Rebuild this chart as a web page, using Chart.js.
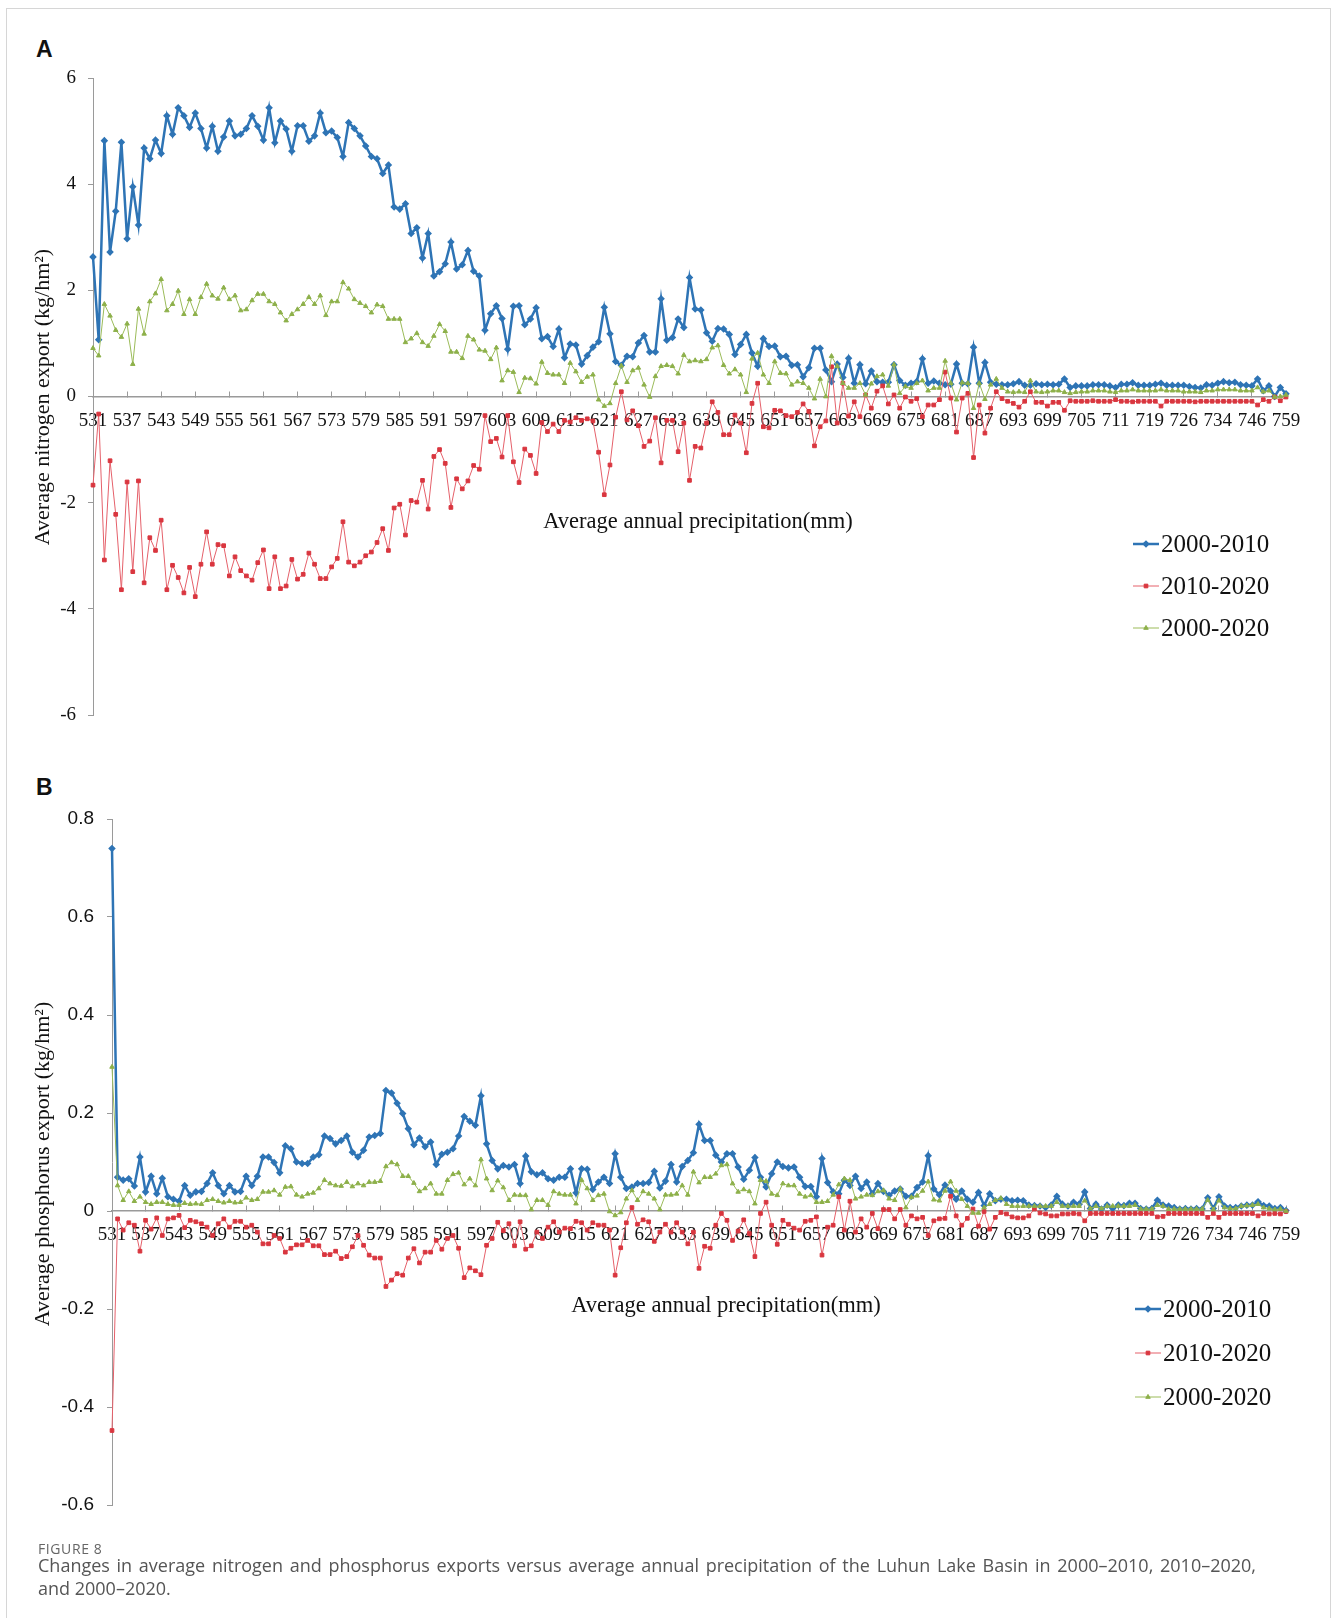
<!DOCTYPE html>
<html>
<head>
<meta charset="utf-8">
<script src="https://cdn.jsdelivr.net/npm/chart.js@4.4.1/dist/chart.umd.min.js"></script>
<style>
  body { margin: 0; background: #fff; }
  .page { position: relative; width: 1332px; height: 1618px; overflow: hidden; }
  .frame { position: absolute; left: 6px; top: 8px; width: 1323px; height: 1660px; border: 1px solid #d6d6d6; }
  .panel-tag { position: absolute; left: 36px; font: bold 23px "Liberation Sans", Arial, sans-serif; color: #111; }
  canvas { position: absolute; left: 0; }
  .fig-no { position: absolute; left: 38px; top: 1539px; font: 14px "Open Sans", sans-serif; color: #666; letter-spacing: 0.6px; }
  .caption { position: absolute; left: 38px; top: 1554px; width: 1218px; font: 18px/23px "Open Sans", sans-serif; color: #555; text-align: justify; }
  .nw { white-space: nowrap; }
</style>
</head>
<body>
<div class="page">
  <div class="frame"></div>
  <div class="panel-tag" style="top:36px">A</div>
  <div class="panel-tag" style="top:774px">B</div>
  <canvas id="chartA" width="1332" height="760" style="top:0"></canvas>
  <canvas id="chartB" width="1332" height="790" style="top:760px"></canvas>
  <div class="fig-no">FIGURE 8</div>
  <div class="caption">Changes in average nitrogen and phosphorus exports versus average annual precipitation of the Luhun Lake Basin in 2000–2010, 2010–2020, <span class="nw">and 2000–2020.</span></div>
</div>
<script>
// x axis: one label every 6 precipitation classes
const tickLabels = ['531','537','543','549','555','561','567','573','579','585','591','597','603','609','615','621','627','633','639','645','651','657','663','669','675','681','687','693','699','705','711','719','726','734','746','759'];
const seriesNames = ['2000-2010', '2010-2020', '2000-2020'];

// A: nitrogen export (kg/hm2)
const nitro0010 = [
  2.63, 1.07, 4.82, 2.72, 3.49, 4.79, 2.97, 3.95, 3.23, 4.68,
  4.48, 4.83, 4.58, 5.29, 4.94, 5.44, 5.29, 5.07, 5.34, 5.05,
  4.68, 5.09, 4.62, 4.89, 5.19, 4.91, 4.94, 5.05, 5.29, 5.09,
  4.83, 5.44, 4.78, 5.19, 5.04, 4.62, 5.10, 5.10, 4.81, 4.91,
  5.34, 4.97, 5.00, 4.88, 4.52, 5.16, 5.05, 4.91, 4.72, 4.52,
  4.48, 4.20, 4.36, 3.57, 3.53, 3.63, 3.07, 3.18, 2.61, 3.07,
  2.27, 2.35, 2.50, 2.91, 2.40, 2.48, 2.75, 2.36, 2.27, 1.25,
  1.56, 1.71, 1.47, 0.89, 1.70, 1.71, 1.35, 1.46, 1.67, 1.09,
  1.13, 0.94, 1.27, 0.73, 0.99, 0.97, 0.61, 0.77, 0.93, 1.03,
  1.68, 1.18, 0.66, 0.59, 0.76, 0.75, 1.01, 1.15, 0.84, 0.84,
  1.84, 1.06, 1.11, 1.46, 1.30, 2.24, 1.65, 1.63, 1.20, 1.04,
  1.28, 1.27, 1.17, 0.79, 0.98, 1.17, 0.82, 0.57, 1.09, 0.94,
  0.95, 0.75, 0.76, 0.59, 0.60, 0.37, 0.54, 0.91, 0.91, 0.50,
  0.28, 0.61, 0.36, 0.72, 0.25, 0.60, 0.24, 0.48, 0.28, 0.27,
  0.27, 0.60, 0.30, 0.21, 0.25, 0.28, 0.71, 0.25, 0.29, 0.25,
  0.22, 0.23, 0.61, 0.25, 0.24, 0.93, 0.25, 0.64, 0.27, 0.23,
  0.22, 0.22, 0.24, 0.28, 0.21, 0.21, 0.24, 0.22, 0.23, 0.22,
  0.23, 0.33, 0.17, 0.20, 0.20, 0.20, 0.22, 0.22, 0.22, 0.20,
  0.17, 0.23, 0.23, 0.26, 0.21, 0.21, 0.21, 0.23, 0.25, 0.21,
  0.21, 0.21, 0.21, 0.19, 0.17, 0.16, 0.22, 0.21, 0.25, 0.28,
  0.26, 0.27, 0.22, 0.21, 0.20, 0.33, 0.11, 0.20, 0.00, 0.17, 0.05
];
const nitro1020 = [
  -1.67, -0.33, -3.08, -1.21, -2.22, -3.64, -1.61, -3.30, -1.59, -3.51,
  -2.66, -2.90, -2.33, -3.64, -3.18, -3.41, -3.70, -3.22, -3.77, -3.16,
  -2.55, -3.16, -2.79, -2.81, -3.38, -3.02, -3.28, -3.38, -3.46, -3.13,
  -2.89, -3.62, -3.02, -3.62, -3.57, -3.07, -3.44, -3.35, -2.95, -3.16,
  -3.43, -3.43, -3.21, -3.05, -2.36, -3.12, -3.19, -3.12, -3.00, -2.93,
  -2.75, -2.49, -2.90, -2.10, -2.03, -2.61, -1.96, -1.99, -1.58, -2.12,
  -1.13, -1.00, -1.26, -2.09, -1.55, -1.74, -1.59, -1.30, -1.37, -0.36,
  -0.85, -0.79, -1.14, -0.36, -1.23, -1.62, -0.99, -1.11, -1.45, -0.49,
  -0.66, -0.52, -0.66, -0.45, -0.48, -0.40, -0.45, -0.42, -0.46, -1.05,
  -1.85, -1.29, -0.39, 0.09, -0.44, -0.27, -0.55, -0.94, -0.84, -0.40,
  -1.25, -0.45, -0.45, -1.04, -0.50, -1.58, -0.94, -0.97, -0.50, -0.10,
  -0.30, -0.72, -0.72, -0.35, -0.50, -1.06, -0.13, 0.25, -0.57, -0.59,
  -0.26, -0.27, -0.36, -0.38, -0.30, -0.14, -0.28, -0.93, -0.57, -0.46,
  0.56, -0.50, 0.25, -0.37, -0.10, -0.38, 0.03, -0.22, 0.10, 0.20,
  -0.14, 0.03, -0.22, -0.01, -0.09, -0.04, -0.38, -0.16, -0.16, -0.06,
  0.46, -0.03, -0.67, -0.03, 0.06, -1.15, -0.16, -0.69, -0.22, 0.09,
  -0.04, -0.09, -0.13, -0.20, -0.09, 0.09, -0.11, -0.11, -0.18, -0.11,
  -0.11, -0.26, -0.08, -0.09, -0.09, -0.09, -0.08, -0.09, -0.09, -0.09,
  -0.06, -0.09, -0.09, -0.10, -0.09, -0.09, -0.09, -0.09, -0.18, -0.09,
  -0.09, -0.09, -0.09, -0.09, -0.10, -0.09, -0.09, -0.09, -0.09, -0.09,
  -0.09, -0.09, -0.09, -0.09, -0.09, -0.16, -0.06, -0.09, -0.01, -0.08, -0.01
];
const nitro0020 = [
  0.91, 0.77, 1.74, 1.52, 1.25, 1.12, 1.37, 0.61, 1.65, 1.18,
  1.79, 1.94, 2.21, 1.62, 1.74, 1.99, 1.55, 1.83, 1.55, 1.87,
  2.12, 1.90, 1.84, 2.05, 1.83, 1.90, 1.62, 1.64, 1.81, 1.93,
  1.93, 1.79, 1.74, 1.58, 1.43, 1.55, 1.64, 1.74, 1.87, 1.74,
  1.90, 1.53, 1.79, 1.79, 2.15, 2.03, 1.83, 1.76, 1.70, 1.58,
  1.73, 1.70, 1.46, 1.46, 1.46, 1.02, 1.09, 1.19, 1.02, 0.95,
  1.14, 1.36, 1.23, 0.84, 0.84, 0.72, 1.14, 1.07, 0.88, 0.86,
  0.70, 0.92, 0.30, 0.49, 0.46, 0.08, 0.35, 0.34, 0.24, 0.65,
  0.44, 0.41, 0.41, 0.25, 0.63, 0.47, 0.27, 0.37, 0.41, -0.06,
  -0.18, -0.13, 0.25, 0.58, 0.27, 0.49, 0.54, 0.22, -0.01, 0.38,
  0.57, 0.59, 0.57, 0.43, 0.78, 0.66, 0.68, 0.66, 0.70, 0.92,
  0.96, 0.59, 0.43, 0.51, 0.41, 0.08, 0.71, 0.82, 0.41, 0.25,
  0.66, 0.44, 0.43, 0.22, 0.28, 0.25, 0.16, -0.04, 0.33, 0.00,
  0.76, 0.57, 0.25, 0.16, 0.16, 0.25, 0.03, 0.24, 0.38, 0.41,
  0.20, 0.60, 0.06, 0.19, 0.16, 0.25, 0.30, 0.11, 0.16, 0.16,
  0.67, 0.25, -0.06, 0.26, 0.25, -0.22, 0.25, -0.05, 0.22, 0.33,
  0.16, 0.09, 0.08, 0.09, 0.08, 0.30, 0.09, 0.08, 0.09, 0.11,
  0.11, 0.08, 0.06, 0.08, 0.09, 0.09, 0.11, 0.11, 0.11, 0.09,
  0.08, 0.11, 0.11, 0.13, 0.11, 0.11, 0.11, 0.11, 0.13, 0.11,
  0.11, 0.11, 0.09, 0.09, 0.09, 0.08, 0.11, 0.11, 0.13, 0.13,
  0.13, 0.13, 0.11, 0.11, 0.11, 0.17, 0.09, 0.11, -0.01, 0.00, 0.03
];

// B: phosphorus export (kg/hm2)
const phos0010 = [
  0.740, 0.069, 0.063, 0.066, 0.051, 0.110, 0.039, 0.071, 0.035, 0.067,
  0.029, 0.024, 0.020, 0.052, 0.032, 0.039, 0.040, 0.056, 0.078, 0.052,
  0.035, 0.052, 0.039, 0.040, 0.071, 0.052, 0.071, 0.110, 0.110, 0.099,
  0.078, 0.133, 0.127, 0.100, 0.097, 0.097, 0.110, 0.115, 0.153, 0.148,
  0.137, 0.144, 0.153, 0.120, 0.110, 0.124, 0.151, 0.154, 0.158, 0.246,
  0.241, 0.220, 0.199, 0.168, 0.135, 0.149, 0.131, 0.141, 0.095, 0.116,
  0.120, 0.127, 0.153, 0.193, 0.183, 0.175, 0.235, 0.137, 0.103, 0.086,
  0.093, 0.090, 0.095, 0.056, 0.112, 0.080, 0.074, 0.078, 0.066, 0.063,
  0.069, 0.069, 0.086, 0.037, 0.086, 0.085, 0.044, 0.059, 0.069, 0.056,
  0.117, 0.069, 0.046, 0.049, 0.056, 0.056, 0.058, 0.081, 0.047, 0.061,
  0.095, 0.059, 0.091, 0.103, 0.119, 0.177, 0.144, 0.144, 0.114, 0.100,
  0.117, 0.117, 0.090, 0.065, 0.083, 0.109, 0.069, 0.049, 0.076, 0.100,
  0.091, 0.088, 0.090, 0.069, 0.050, 0.050, 0.029, 0.107, 0.058, 0.039,
  0.035, 0.063, 0.052, 0.071, 0.046, 0.059, 0.035, 0.056, 0.040, 0.032,
  0.041, 0.045, 0.030, 0.030, 0.048, 0.059, 0.113, 0.045, 0.033, 0.053,
  0.041, 0.024, 0.041, 0.024, 0.018, 0.038, 0.011, 0.035, 0.021, 0.024,
  0.024, 0.021, 0.022, 0.021, 0.012, 0.011, 0.010, 0.007, 0.012, 0.030,
  0.014, 0.010, 0.018, 0.014, 0.039, 0.005, 0.014, 0.004, 0.012, 0.005,
  0.012, 0.011, 0.016, 0.016, 0.005, 0.004, 0.005, 0.022, 0.012, 0.010,
  0.007, 0.004, 0.005, 0.004, 0.005, 0.004, 0.027, 0.005, 0.029, 0.010,
  0.007, 0.007, 0.010, 0.012, 0.012, 0.019, 0.011, 0.010, 0.005, 0.007, 0.001
];
const phos1020 = [
  -0.448, -0.016, -0.039, -0.024, -0.029, -0.082, -0.019, -0.037, -0.014, -0.050,
  -0.016, -0.014, -0.009, -0.034, -0.019, -0.022, -0.026, -0.033, -0.050, -0.026,
  -0.016, -0.033, -0.021, -0.021, -0.033, -0.029, -0.043, -0.067, -0.067, -0.050,
  -0.056, -0.084, -0.076, -0.069, -0.069, -0.060, -0.071, -0.071, -0.089, -0.089,
  -0.082, -0.097, -0.093, -0.073, -0.050, -0.070, -0.090, -0.096, -0.096, -0.154,
  -0.141, -0.128, -0.131, -0.096, -0.077, -0.106, -0.084, -0.084, -0.060, -0.078,
  -0.056, -0.050, -0.076, -0.136, -0.116, -0.122, -0.130, -0.070, -0.056, -0.023,
  -0.040, -0.026, -0.071, -0.022, -0.078, -0.071, -0.043, -0.056, -0.033, -0.022,
  -0.043, -0.035, -0.036, -0.021, -0.024, -0.039, -0.024, -0.029, -0.029, -0.039,
  -0.131, -0.075, -0.024, 0.007, -0.027, -0.018, -0.022, -0.062, -0.043, -0.027,
  -0.043, -0.024, -0.043, -0.067, -0.043, -0.117, -0.072, -0.076, -0.029, -0.005,
  -0.019, -0.060, -0.041, -0.018, -0.046, -0.093, -0.005, 0.018, -0.029, -0.068,
  -0.019, -0.027, -0.035, -0.039, -0.021, -0.019, -0.012, -0.090, -0.033, -0.029,
  0.029, -0.039, 0.020, -0.043, -0.016, -0.033, -0.005, -0.036, 0.003, 0.003,
  -0.016, 0.003, -0.029, -0.010, -0.016, -0.013, -0.050, -0.020, -0.016, -0.015,
  0.030, -0.010, -0.029, -0.015, 0.004, -0.031, -0.001, -0.037, -0.013, -0.003,
  -0.006, -0.012, -0.014, -0.014, -0.010, 0.004, -0.004, -0.006, -0.010, -0.010,
  -0.006, -0.006, -0.005, -0.006, -0.020, -0.005, -0.005, -0.005, -0.005, -0.005,
  -0.005, -0.005, -0.005, -0.005, -0.005, -0.005, -0.005, -0.012, -0.011, -0.005,
  -0.005, -0.005, -0.005, -0.005, -0.005, -0.005, -0.013, -0.005, -0.013, -0.005,
  -0.005, -0.005, -0.005, -0.005, -0.005, -0.010, -0.005, -0.006, -0.005, -0.006, -0.001
];
const phos0020 = [
  0.294, 0.052, 0.022, 0.040, 0.020, 0.029, 0.018, 0.014, 0.018, 0.018,
  0.014, 0.012, 0.012, 0.016, 0.014, 0.015, 0.014, 0.022, 0.024, 0.020,
  0.017, 0.020, 0.017, 0.018, 0.027, 0.022, 0.024, 0.039, 0.039, 0.042,
  0.033, 0.049, 0.050, 0.033, 0.029, 0.035, 0.037, 0.046, 0.063, 0.056,
  0.052, 0.051, 0.059, 0.050, 0.056, 0.052, 0.059, 0.059, 0.061, 0.091,
  0.099, 0.095, 0.071, 0.071, 0.057, 0.040, 0.046, 0.056, 0.035, 0.035,
  0.063, 0.075, 0.078, 0.054, 0.066, 0.052, 0.105, 0.066, 0.042, 0.062,
  0.048, 0.022, 0.033, 0.032, 0.032, 0.003, 0.022, 0.022, 0.012, 0.040,
  0.035, 0.033, 0.033, 0.015, 0.063, 0.046, 0.022, 0.032, 0.035, -0.001,
  -0.009, -0.003, 0.025, 0.042, 0.022, 0.040, 0.035, 0.025, 0.003, 0.033,
  0.033, 0.035, 0.052, 0.033, 0.080, 0.058, 0.069, 0.069, 0.076, 0.093,
  0.095, 0.056, 0.039, 0.044, 0.040, 0.015, 0.063, 0.061, 0.035, 0.032,
  0.056, 0.052, 0.052, 0.035, 0.029, 0.032, 0.018, 0.018, 0.020, 0.033,
  0.054, 0.066, 0.063, 0.025, 0.029, 0.033, 0.032, 0.040, 0.042, 0.025,
  0.022, 0.045, 0.007, 0.028, 0.031, 0.041, 0.060, 0.023, 0.021, 0.041,
  0.060, 0.041, 0.024, 0.010, -0.004, -0.004, 0.007, 0.014, 0.022, 0.026,
  0.014, 0.010, 0.010, 0.010, 0.010, 0.010, 0.010, 0.010, 0.010, 0.018,
  0.010, 0.010, 0.010, 0.010, 0.021, 0.005, 0.010, 0.005, 0.010, 0.010,
  0.010, 0.010, 0.010, 0.012, 0.004, 0.004, 0.004, 0.012, 0.010, 0.004,
  0.004, 0.004, 0.004, 0.004, 0.004, 0.004, 0.022, 0.003, 0.021, 0.007,
  0.005, 0.005, 0.010, 0.011, 0.012, 0.014, 0.007, 0.005, 0.003, 0.004, 0.000
];

// category list: a tick label every 6th class, the others unlabeled
const categories = [];
tickLabels.forEach((t, i) => {
  categories.push(t);
  if (i < tickLabels.length - 1) for (let k = 0; k < 5; k++) categories.push('');
});

const serif = '"Liberation Serif", "Times New Roman", serif';

// axis titles + legend drawn over the plot area, as in the original figure
const overlay = {
  id: 'overlay',
  afterDraw(chart, args, o) {
    const ctx = chart.ctx;
    ctx.save();
    ctx.fillStyle = '#111';
    ctx.textAlign = 'center';
    ctx.textBaseline = 'middle';
    ctx.font = '22.5px ' + serif;
    ctx.fillText(o.xTitle, o.titleX, o.titleY);

    // y title, rotated
    ctx.save();
    ctx.translate(o.yTitleX, o.yTitleY);
    ctx.rotate(-Math.PI / 2);
    ctx.font = '22px ' + serif;
    ctx.fillText(o.yTitle, 0, 0);
    ctx.restore();

    ctx.font = '25px ' + serif;
    ctx.textAlign = 'left';
    chart.data.datasets.forEach((ds, i) => {
      const y = o.legendY + i * o.legendGap;
      const x = o.legendX;
      ctx.strokeStyle = ds.borderColor;
      ctx.lineWidth = ds.borderWidth;
      ctx.beginPath();
      ctx.moveTo(x, y);
      ctx.lineTo(x + 26, y);
      ctx.stroke();
      ctx.fillStyle = ds.pointBackgroundColor;
      ctx.strokeStyle = ds.pointBorderColor;
      Chart.helpers.drawPoint(ctx, { pointStyle: ds.pointStyle, radius: ds.pointRadius, borderWidth: 1 }, x + 13, y);
      ctx.fillStyle = '#111';
      ctx.fillText(ds.label, x + 28, y + 1);
    });
    ctx.restore();
  }
};

function makeDatasets(blue, red, green) {
  return [
    { label: seriesNames[0], data: blue, borderColor: '#2E74B5', borderWidth: 2.5,
      pointStyle: 'rectRot', pointRadius: 2, pointBackgroundColor: '#2E74B5', pointBorderColor: '#2E74B5', order: 3 },
    { label: seriesNames[1], data: red, borderColor: '#E5606A', borderWidth: 1,
      pointStyle: 'rect', pointRadius: 2.6, pointBackgroundColor: '#D9363F', pointBorderColor: '#D9363F', order: 2 },
    { label: seriesNames[2], data: green, borderColor: '#9BBB59', borderWidth: 1,
      pointStyle: 'triangle', pointRadius: 2.6, pointBackgroundColor: '#8DB04A', pointBorderColor: '#8DB04A', order: 1 }
  ];
}

function makeChart(id, cfg) {
  return new Chart(document.getElementById(id), {
    type: 'line',
    data: { labels: categories, datasets: makeDatasets(cfg.blue, cfg.red, cfg.green) },
    options: {
      responsive: false,
      animation: false,
      events: [],
      clip: false,
      elements: { line: { tension: 0 }, point: { borderWidth: 1 } },
      layout: { padding: cfg.padding },
      plugins: { legend: { display: false }, tooltip: { enabled: false }, overlay: cfg.overlay },
      scales: {
        x: {
          type: 'category',
          position: { y: 0 },
          afterFit: s => { s.height = 0; },
          border: { display: true, color: '#9a9a9a', width: 1.5 },
          grid: { drawOnChartArea: false, drawTicks: true, tickLength: -6, color: '#9a9a9a' },
          ticks: {
            autoSkip: false, maxRotation: 0, padding: 19, color: '#111',
            font: { family: serif, size: 19 },
            callback: (v, i) => categories[i] === '' ? null : categories[i]
          }
        },
        y: {
          min: cfg.min, max: cfg.max,
          afterFit: s => { s.width = cfg.axisX; },
          border: { display: true, color: '#9a9a9a', width: 1 },
          grid: { drawOnChartArea: false, drawTicks: true, tickLength: 5, color: '#9a9a9a' },
          ticks: {
            stepSize: cfg.step, padding: cfg.tickPad, color: '#111',
            font: { family: cfg.tickFont, size: 19 },
            callback: v => Math.abs(v) < 1e-9 ? '0' : String(Math.round(v * 10) / 10)
          }
        }
      }
    },
    plugins: [overlay]
  });
}

makeChart('chartA', {
  blue: nitro0010, red: nitro1020, green: nitro0020,
  min: -6, max: 6, step: 2, axisX: 93, tickPad: 12, tickFont: serif,
  padding: { top: 78, right: 46, bottom: 45, left: 0 },
  overlay: { xTitle: 'Average annual precipitation(mm)', titleX: 698, titleY: 522,
             yTitle: 'Average nitrogen export (kg/hm²)', yTitleX: 43, yTitleY: 397,
             legendX: 1133, legendY: 544, legendGap: 42 }
});

makeChart('chartB', {
  blue: phos0010, red: phos1020, green: phos0020,
  min: -0.6, max: 0.8, step: 0.2, axisX: 112, tickPad: 13, tickFont: '"Liberation Sans", Arial, sans-serif',
  padding: { top: 59, right: 46, bottom: 45, left: 0 },
  overlay: { xTitle: 'Average annual precipitation(mm)', titleX: 726, titleY: 546,
             yTitle: 'Average phosphorus export (kg/hm²)', yTitleX: 43, yTitleY: 404,
             legendX: 1135, legendY: 549, legendGap: 44 }
});
</script>
</body>
</html>
